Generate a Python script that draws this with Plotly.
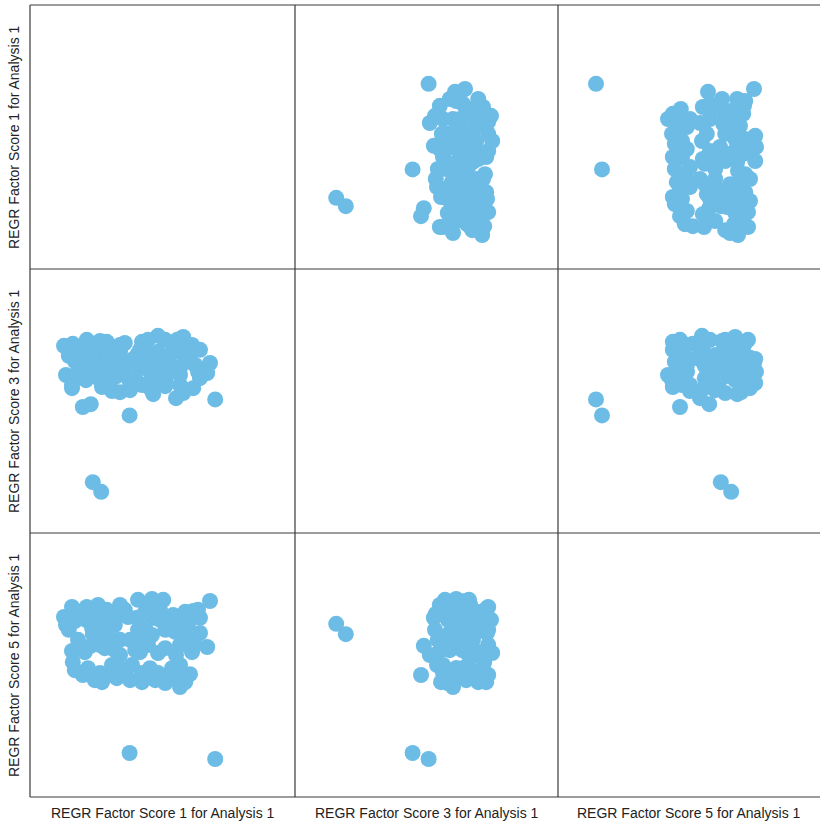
import plotly.graph_objects as go
from plotly.subplots import make_subplots

# Regression factor scores per case
f1 = [0.20, 0.55, 0.83, 2.00, -1.08, -1.65, -0.58, -0.25, -0.13, 1.08,
      1.58, 1.33, -1.53, -1.38, -0.75, 0.18, 0.58, 0.88, 1.33, 1.75,
      1.93, 1.55, 1.15, 0.70, -1.45, -0.63, -0.25, 0.25, 0.45, -1.43,
      -1.18, -0.75, -0.45, -0.13, 0.30, 0.30, -0.70, -0.33, 0.70, 0.95,
      1.18, 1.50, 1.25, 0.88, -1.10, -0.38, -0.98, 0.38, 1.50, 0.75,
      -0.25, 0.13, -0.50, -0.72, -0.93, 2.13, -0.01,
      -1.25, -0.88, -0.45, -0.05, 0.38, 1.00, 1.38, 1.75, -1.30, -0.95,
      -0.55, 0.20, 0.55, 1.13, 1.63, -1.13, -0.75, -0.38, 0.25, 0.88,
      1.25, 0.50, -0.25, -0.80, 1.70, -1.60, 0.00, 1.45, 0.75, -1.45,
      -1.05, -0.55, 0.05, 0.50, 1.05, 1.38, -0.88, 0.00, 0.63, -0.25,
      1.25, -1.38]
f3 = [-0.25, 0.03, 0.35, 0.25, 0.83, 0.68, 0.78, -0.48, 0.75, 0.58,
      -0.38, 0.90, 0.43, 0.30, 0.80, 0.45, -0.53, 0.83, -0.50, -0.13,
      0.00, 0.70, -0.63, 0.93, -0.38, 0.40, 0.28, 0.13, 0.83, 0.73,
      -0.85, 0.20, -0.45, 0.08, -0.30, 0.78, -0.35, -0.08, 0.53, 0.43,
      0.83, 0.28, -0.05, -0.18, -0.18, 0.03, -0.78, 0.58, 0.45, 0.20,
      0.53, -0.13, -0.25, -2.97, -2.73, -0.66, -1.06,
      0.53, 0.18, 0.63, -0.08, 0.38, 0.03, 0.33, 0.58, 0.03, 0.43,
      0.08, 0.28, -0.13, 0.53, 0.20, 0.28, -0.18, 0.18, 0.58, -0.33,
      0.13, -0.38, 0.38, -0.03, 0.03, -0.05, -0.43, 0.63, -0.13, -0.30,
      0.03, 0.48, 0.33, 0.03, 0.18, 0.58, 0.63, -0.23, 0.28, 0.70,
      -0.30, 0.33]
f5 = [1.18, 1.20, 1.18, 1.15, 1.00, 0.75, 0.93, 0.83, 0.93, 0.80,
      0.90, 0.68, 0.43, 0.65, 0.35, 0.73, 0.73, 0.43, 0.43, 0.35,
      0.00, -0.13, -0.20, -0.15, -0.10, -0.03, 0.18, 0.23, 0.05, -0.38,
      -0.70, -0.65, -0.45, -0.63, -0.65, -0.88, -0.88, -0.78, -0.65, -0.78,
      -0.70, -0.68, -1.00, -0.90, 0.68, 0.55, 0.03, 0.48, 0.18, 0.93,
      -0.20, -0.08, 0.23, 0.58, 0.32, -2.80, -2.65,
      0.88, 0.80, 0.73, 0.75, 0.88, 0.63, 0.88, 0.73, 0.18, 0.48,
      0.38, 0.43, 0.30, 0.38, 0.05, -0.13, 0.05, -0.08, -0.13, -0.03,
      0.05, 1.05, 1.05, 1.05, 0.93, 0.55, 0.18, 0.55, 0.68, 1.00,
      -0.53, -0.70, -0.45, -0.53, -0.53, -0.88, -0.83, -0.83, -0.83, -0.53,
      -0.45, -0.58]

var_labels = ["REGR Factor Score 1 for Analysis 1",
              "REGR Factor Score 3 for Analysis 1",
              "REGR Factor Score 5 for Analysis 1"]

data = [f1, f3, f5]
x_ranges = [[-2.5, 4.125], [-4.0, 2.575], [-3.75, 2.80]]
y_ranges = [[-2.5, 4.1], [-4.0, 2.6], [-3.75, 2.85]]
col_widths = [265, 263, 262]

MARKER_COLOR = "#6cbce5"
LINE_COLOR = "#3a3a3a"
TEXT_COLOR = "#222222"
FONT = "Liberation Sans, Arial, sans-serif"

fig = make_subplots(rows=3, cols=3, horizontal_spacing=0, vertical_spacing=0,
                    column_widths=col_widths)

for r in range(3):
    for c in range(3):
        if r != c:
            fig.add_trace(go.Scatter(
                x=data[c], y=data[r], mode="markers",
                marker=dict(size=16, color=MARKER_COLOR, line=dict(width=0)),
                showlegend=False, hoverinfo="skip"), row=r + 1, col=c + 1)
        fig.update_xaxes(range=x_ranges[c], showgrid=False, zeroline=False,
                         showline=False, showticklabels=False, ticks="",
                         fixedrange=True, row=r + 1, col=c + 1)
        fig.update_yaxes(range=y_ranges[r], showgrid=False, zeroline=False,
                         showline=False, showticklabels=False, ticks="",
                         fixedrange=True, row=r + 1, col=c + 1)

total_w = sum(col_widths)
col_edges = [0, col_widths[0] / total_w, (col_widths[0] + col_widths[1]) / total_w, 1]

shapes = []
def pline(x0, y0, x1, y1):
    shapes.append(dict(type="line", xref="paper", yref="paper", x0=x0, y0=y0,
                       x1=x1, y1=y1, line=dict(color=LINE_COLOR, width=1.2)))

pline(0, 1, 1, 1)
pline(0, 0, 1, 0)
pline(0, 0, 0, 1)
for k in (1, 2):
    pline(col_edges[k], 0, col_edges[k], 1)
    pline(0, k / 3, 1, k / 3)

annotations = []
for i, lab in enumerate(var_labels):
    annotations.append(dict(text=lab, xref="paper", yref="paper",
                            x=(col_edges[i] + col_edges[i + 1]) / 2, y=0,
                            xanchor="center", yanchor="top",
                            yshift=-6, showarrow=False,
                            font=dict(size=14, color=TEXT_COLOR, family=FONT)))
    annotations.append(dict(text=lab, xref="paper", yref="paper",
                            x=0, y=1 - (i + 0.5) / 3, xanchor="right", yanchor="middle",
                            xshift=-6, textangle=-90, showarrow=False,
                            font=dict(size=14, color=TEXT_COLOR, family=FONT)))

fig.update_layout(width=820, height=823,
                  margin=dict(l=30, r=0, t=5, b=26),
                  paper_bgcolor="white", plot_bgcolor="white",
                  shapes=shapes, annotations=annotations,
                  font=dict(family=FONT, color=TEXT_COLOR))

fig.write_html("out.html", config={"displayModeBar": False},
               post_script="document.body.style.margin='0';document.body.style.overflow='hidden';")
